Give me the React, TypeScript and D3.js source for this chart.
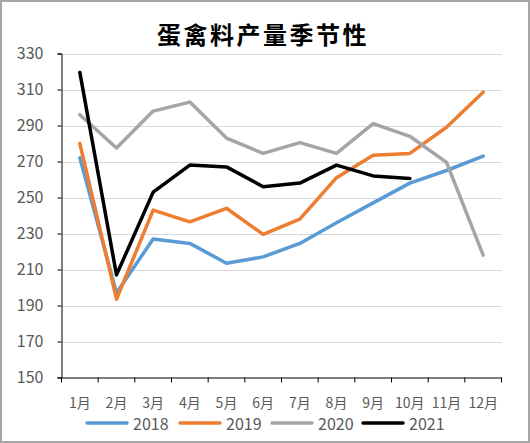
import React, { useEffect, useRef } from "react";
import * as d3 from "d3";

const months = ["1月", "2月", "3月", "4月", "5月", "6月", "7月", "8月", "9月", "10月", "11月", "12月"];
const yTicks = [150, 170, 190, 210, 230, 250, 270, 290, 310, 330];
const s2018 = [272, 197, 227, 224.5, 213.5, 217, 224.5, 236, 247, 258, 265, 273];
const s2019 = [280, 193.5, 243, 236.5, 244, 229.5, 238, 261, 273.5, 274.5, 289, 308.5];
const s2020 = [296, 277.5, 298, 303, 283, 274.5, 280.5, 274.5, 291, 284, 269.5, 218];
const s2021 = [319.5, 207, 253, 268, 267, 256, 258, 268, 262, 260.5];
const seriesNames = ["2018", "2019", "2020", "2021"];
const seriesColors = ["#5B9BD5", "#ED7D31", "#A5A5A5", "#000000"];
const title = "蛋禽料产量季节性";

export default function App() {
  const ref = useRef<SVGSVGElement>(null);
  useEffect(() => {
    const W = 530, H = 443;
    const svg = d3.select(ref.current);
    svg.selectAll("*").remove();
    const font = "'Noto Sans CJK SC', 'Noto Sans', sans-serif";
    const left = 61.5, right = 501.5, top = 53.5, bottom = 377.5;

    svg.append("rect").attr("x", 1).attr("y", 1).attr("width", W - 2).attr("height", H - 2)
      .attr("fill", "#fff").attr("stroke", "#A6A6A6").attr("stroke-width", 2);

    const x = d3.scaleBand<string>().domain(months).range([left, right]);
    const y = d3.scaleLinear().domain([150, 330]).range([bottom, top]);

    svg.append("text").attr("x", 263).attr("y", 33).attr("text-anchor", "middle")
      .attr("dominant-baseline", "central").attr("font-family", font).attr("font-weight", "bold")
      .attr("font-size", 24).attr("letter-spacing", 2.5).attr("fill", "#000").text(title);

    // gridlines
    svg.append("g").selectAll("line").data(yTicks.filter(t => t !== 150)).join("line")
      .attr("x1", left).attr("x2", right).attr("y1", d => Math.round(y(d)) + 0.5).attr("y2", d => Math.round(y(d)) + 0.5)
      .attr("stroke", "#D9D9D9").attr("stroke-width", 1);

    // y axis
    const yAxis = svg.append("g").attr("transform", `translate(${left},0)`)
      .call(d3.axisLeft(y).tickValues(yTicks).tickSize(4).tickPadding(14));
    yAxis.select(".domain").attr("stroke", "#000");
    yAxis.selectAll(".tick line").attr("stroke", "#000");
    yAxis.selectAll("text").attr("font-family", font).attr("font-size", 16).attr("fill", "#595959");

    // x axis
    const xAxis = svg.append("g").attr("transform", `translate(0,${bottom})`)
      .call(d3.axisBottom(x).tickSize(0).tickPadding(21));
    xAxis.select(".domain").attr("stroke", "#000");
    xAxis.selectAll("text").attr("font-family", font).attr("font-size", 14).attr("fill", "#595959");
    const bounds = d3.range(months.length + 1).map(i => left + i * x.step());
    xAxis.append("g").selectAll("line").data(bounds).join("line")
      .attr("x1", d => d).attr("x2", d => d).attr("y1", 0).attr("y2", 5).attr("stroke", "#000");

    const line = d3.line<number>().x((_, i) => (x(months[i]) as number) + x.bandwidth() / 2).y(d => y(d));
    [s2018, s2019, s2020, s2021].forEach((s, i) => {
      svg.append("path").datum(s).attr("d", line).attr("fill", "none")
        .attr("stroke", seriesColors[i]).attr("stroke-width", 3.5)
        .attr("stroke-linejoin", "round").attr("stroke-linecap", "round");
    });

    // legend
    const legX = [87, 180, 272, 363];
    const lg = svg.append("g");
    seriesNames.forEach((n, i) => {
      lg.append("line").attr("x1", legX[i]).attr("x2", legX[i] + 40).attr("y1", 423).attr("y2", 423)
        .attr("stroke", seriesColors[i]).attr("stroke-width", 3.5).attr("stroke-linecap", "round");
      lg.append("text").attr("x", legX[i] + 46).attr("y", 423).attr("dominant-baseline", "central")
        .attr("font-family", font).attr("font-size", 16).attr("fill", "#595959").text(n);
    });
  }, []);
  return <svg ref={ref} width={530} height={443} style={{ position: "absolute", left: 0, top: 0 }} />;
}
